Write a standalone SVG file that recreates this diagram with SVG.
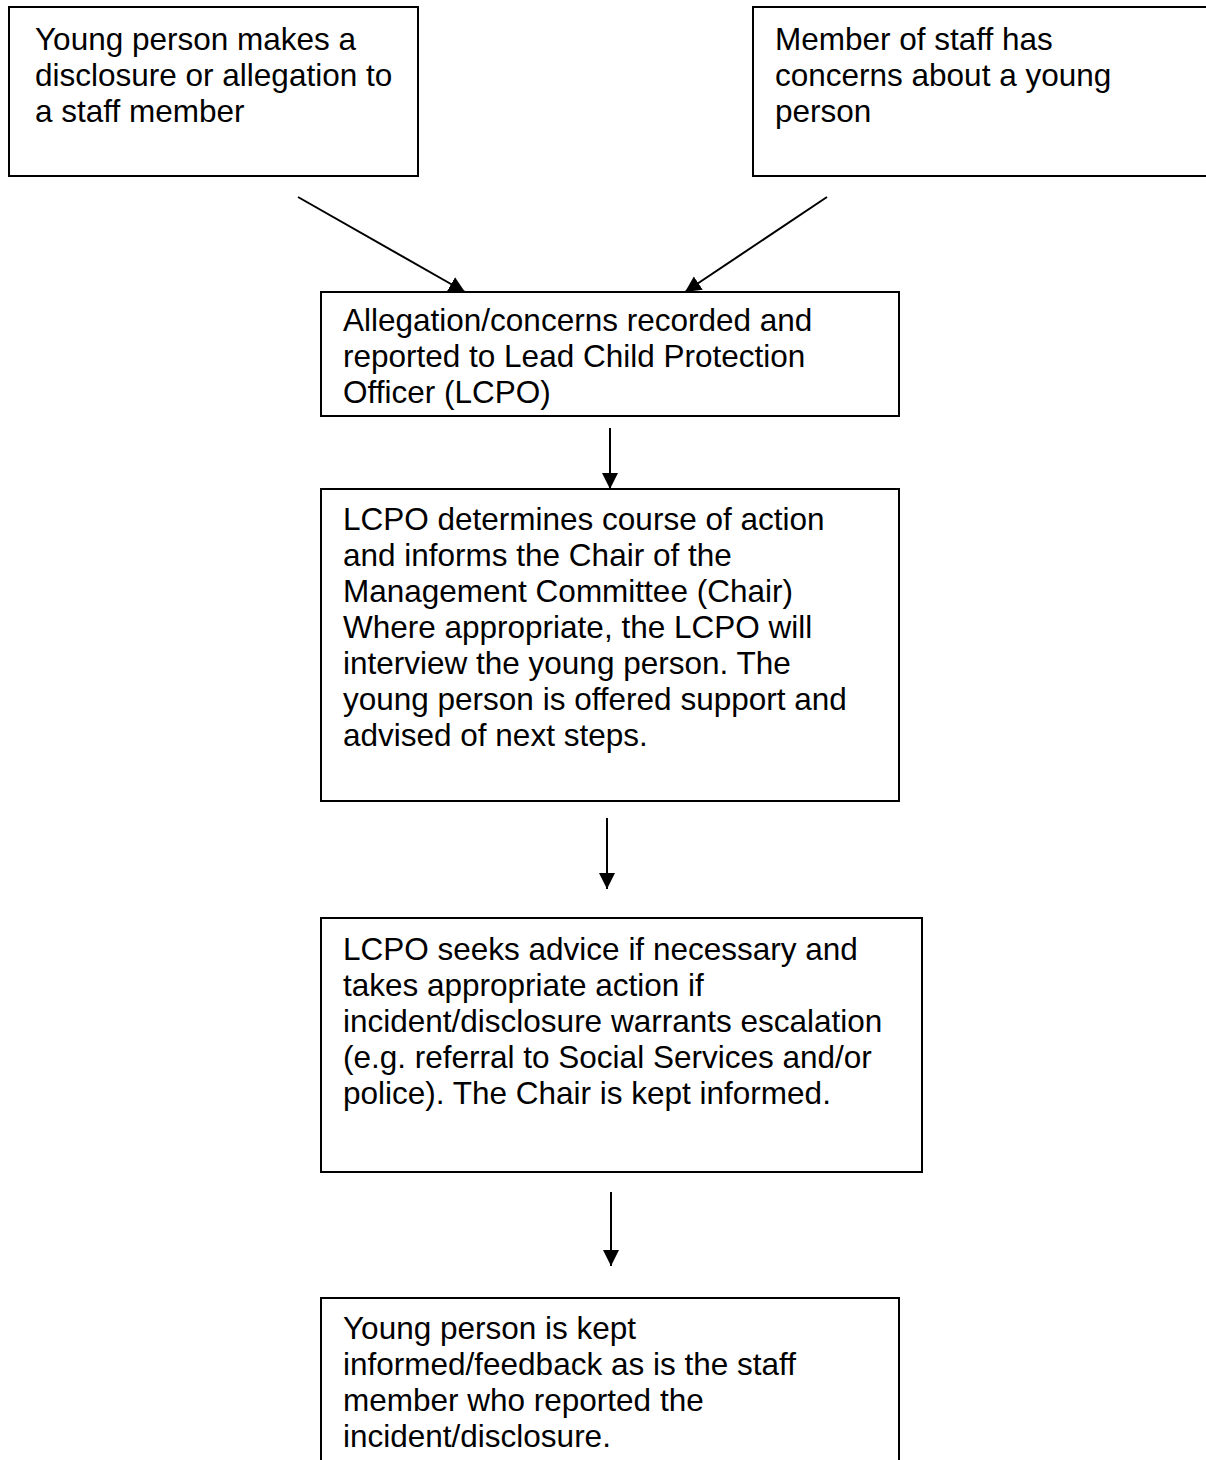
<svg xmlns="http://www.w3.org/2000/svg" width="1206" height="1460" viewBox="0 0 1206 1460">
<style>
.box{fill:#fff;stroke:#000;stroke-width:2}
.t{font-family:"Liberation Sans",Arial,sans-serif;font-size:31.5px;fill:#000}
.c{stroke:#000;stroke-width:2;fill:none;marker-end:url(#ah)}
</style>
<defs>
<marker id="ah" markerUnits="userSpaceOnUse" markerWidth="18" markerHeight="18" refX="16" refY="8" orient="auto" viewBox="0 0 18 18">
<path d="M0,0 L16,8 L0,16 z" fill="#000"/>
</marker>
</defs>
<rect width="1206" height="1460" fill="#fff"/>
<g id="connectors">
<line class="c" x1="298" y1="197" x2="465" y2="292"/>
<line class="c" x1="827" y1="197" x2="685" y2="292"/>
<line class="c" x1="610" y1="428" x2="610" y2="489"/>
<line class="c" x1="607" y1="818" x2="607" y2="889"/>
<line class="c" x1="611" y1="1192" x2="611" y2="1266"/>
</g>
<g id="n1">
<rect class="box" x="9" y="7" width="409" height="169"/>
<text class="t" x="35" y="50">Young person makes a</text>
<text class="t" x="35" y="86">disclosure or allegation to</text>
<text class="t" x="35" y="122">a staff member</text>
</g>
<g id="n2">
<rect class="box" x="753" y="7" width="470" height="169"/>
<text class="t" x="775" y="50">Member of staff has</text>
<text class="t" x="775" y="86">concerns about a young</text>
<text class="t" x="775" y="122">person</text>
</g>
<g id="n3">
<rect class="box" x="321" y="292" width="578" height="124"/>
<text class="t" x="343" y="331">Allegation/concerns recorded and</text>
<text class="t" x="343" y="367">reported to Lead Child Protection</text>
<text class="t" x="343" y="403">Officer (LCPO)</text>
</g>
<g id="n4">
<rect class="box" x="321" y="489" width="578" height="312"/>
<text class="t" x="343" y="530">LCPO determines course of action</text>
<text class="t" x="343" y="566">and informs the Chair of the</text>
<text class="t" x="343" y="602">Management Committee (Chair)</text>
<text class="t" x="343" y="638">Where appropriate, the LCPO will</text>
<text class="t" x="343" y="674">interview the young person. The</text>
<text class="t" x="343" y="710">young person is offered support and</text>
<text class="t" x="343" y="746">advised of next steps.</text>
</g>
<g id="n5">
<rect class="box" x="321" y="918" width="601" height="254"/>
<text class="t" x="343" y="960">LCPO seeks advice if necessary and</text>
<text class="t" x="343" y="996">takes appropriate action if</text>
<text class="t" x="343" y="1032">incident/disclosure warrants escalation</text>
<text class="t" x="343" y="1068">(e.g. referral to Social Services and/or</text>
<text class="t" x="343" y="1104">police). The Chair is kept informed.</text>
</g>
<g id="n6">
<rect class="box" x="321" y="1298" width="578" height="200"/>
<text class="t" x="343" y="1339">Young person is kept</text>
<text class="t" x="343" y="1375">informed/feedback as is the staff</text>
<text class="t" x="343" y="1411">member who reported the</text>
<text class="t" x="343" y="1447">incident/disclosure.</text>
</g>
</svg>
